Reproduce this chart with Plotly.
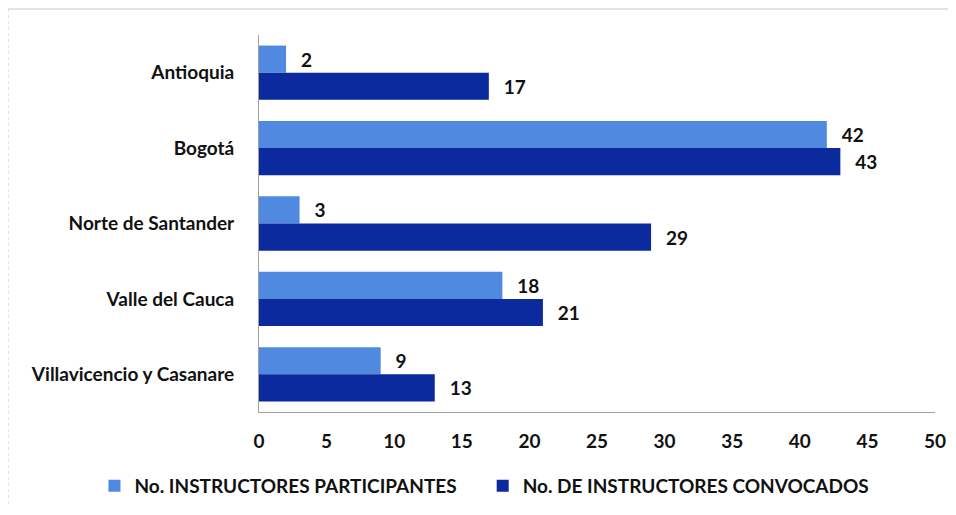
import plotly.graph_objects as go

categories = ["Antioquia", "Bogotá", "Norte de Santander", "Valle del Cauca", "Villavicencio y Casanare"]
participantes = [2, 42, 3, 18, 9]
convocados = [17, 43, 29, 21, 13]
series_names = ["No. INSTRUCTORES PARTICIPANTES", "No. DE INSTRUCTORES CONVOCADOS"]
x_ticks = [0, 5, 10, 15, 20, 25, 30, 35, 40, 45, 50]

FONT = "Lato"
light = "#4f8ae0"
dark = "#0b2a9e"
PAD = "\u2002\u2009"

fig = go.Figure()
fig.add_trace(go.Bar(
    y=categories, x=participantes, orientation="h", name=series_names[0],
    marker=dict(color=light, line=dict(width=0)),
    text=[PAD + str(v) for v in participantes], textposition="outside",
    textfont=dict(family=FONT, size=19, color="#111111", weight="bold"),
    cliponaxis=False, legend="legend",
))
fig.add_trace(go.Bar(
    y=categories, x=convocados, orientation="h", name=series_names[1],
    marker=dict(color=dark, line=dict(width=0)),
    text=[PAD + str(v) for v in convocados], textposition="outside",
    textfont=dict(family=FONT, size=19, color="#111111", weight="bold"),
    cliponaxis=False, legend="legend2",
))

leg_common = dict(orientation="h", xref="container", yref="paper",
                  xanchor="left", y=-0.196, yanchor="middle",
                  font=dict(family=FONT, size=19, color="#111111", weight="bold"),
                  itemwidth=30, bgcolor="rgba(0,0,0,0)")

fig.update_layout(
    width=940, height=499,
    margin=dict(l=251, r=13, t=27, b=95, autoexpand=False),
    paper_bgcolor="white", plot_bgcolor="white",
    barmode="group", bargap=0.28, bargroupgap=0,
    font=dict(family=FONT, color="#111111"),
    showlegend=True,
    legend=dict(leg_common, x=0.092),
    legend2=dict(leg_common, x=0.505),
    xaxis=dict(range=[0, 50], tickvals=x_ticks, showgrid=False, zeroline=False,
               showline=True, linecolor="#a0a0a0", linewidth=1, ticks="",
               tickfont=dict(family=FONT, size=19, color="#111111", weight="bold"),
               ticklabelstandoff=12),
    yaxis=dict(autorange="reversed", showgrid=False, zeroline=False,
               showline=True, linecolor="#a0a0a0", linewidth=1, ticks="",
               tickfont=dict(family=FONT, size=19, color="#111111", weight="bold"),
               ticklabelstandoff=20),
    shapes=[
        dict(type="line", xref="paper", yref="paper", x0=-0.3713, x1=1.03, y0=1.069, y1=1.069,
             line=dict(color="#c8c8c8", width=1)),
        dict(type="line", xref="paper", yref="paper", x0=-0.3713, x1=-0.3713, y0=1.069, y1=-0.3,
             line=dict(color="#c8c8c8", width=1, dash="dot")),
    ],
)

fig.write_html("out.html")
